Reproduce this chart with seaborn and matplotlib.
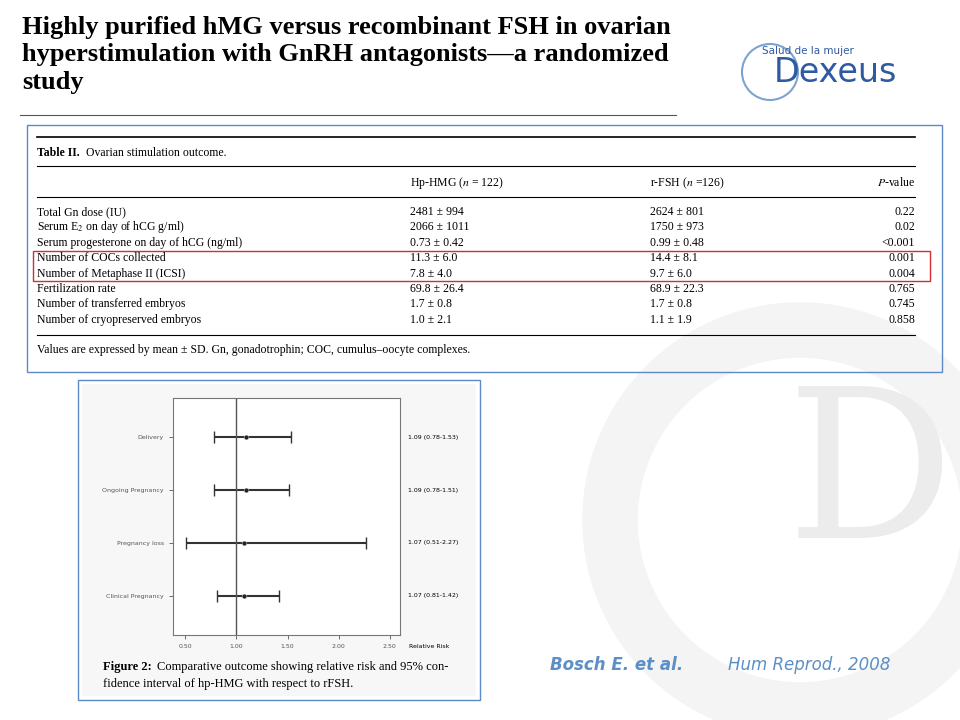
import matplotlib
matplotlib.use("Agg")
import matplotlib.pyplot as plt
from matplotlib.patches import Rectangle, Circle
import seaborn as sns
import pandas as pd

plt.rcParams["mathtext.fontset"] = "stix"

# forest plot data
outcomes = ["Delivery", "Ongoing Pregnancy", "Pregnancy loss", "Clinical Pregnancy"]
rr = [1.09, 1.09, 1.07, 1.07]
lo = [0.78, 0.78, 0.51, 0.81]
hi = [1.53, 1.51, 2.27, 1.42]
rr_labels = ["1.09 (0.78-1.53)", "1.09 (0.78-1.51)", "1.07 (0.51-2.27)", "1.07 (0.81-1.42)"]
xticks = [0.5, 1.0, 1.5, 2.0, 2.5]

# table data
row_labels = ["Total Gn dose (IU)", "Serum E$_2$ on day of hCG g/ml)",
              "Serum progesterone on day of hCG (ng/ml)", "Number of COCs collected",
              "Number of Metaphase II (ICSI)", "Fertilization rate",
              "Number of transferred embryos", "Number of cryopreserved embryos"]
hmg = ["2481 ± 994", "2066 ± 1011", "0.73 ± 0.42", "11.3 ± 6.0", "7.8 ± 4.0",
       "69.8 ± 26.4", "1.7 ± 0.8", "1.0 ± 2.1"]
fsh = ["2624 ± 801", "1750 ± 973", "0.99 ± 0.48", "14.4 ± 8.1", "9.7 ± 6.0",
       "68.9 ± 22.3", "1.7 ± 0.8", "1.1 ± 1.9"]
pval = ["0.22", "0.02", "<0.001", "0.001", "0.004", "0.765", "0.745", "0.858"]

fig = plt.figure(figsize=(9.6, 7.2), dpi=100)
bg = fig.add_axes([0, 0, 1, 1])
bg.set_xlim(0, 960); bg.set_ylim(720, 0); bg.axis("off")

# watermark D
bg.add_patch(Circle((800, 520), 190, fill=False, lw=40, color="#f4f4f4", zorder=0))
bg.text(870, 480, "D", fontsize=150, color="#ececec", family="DejaVu Serif",
        ha="center", va="center", zorder=0)

serif = "Liberation Serif"
bg.text(22, 16, "Highly purified hMG versus recombinant FSH in ovarian\n"
        "hyperstimulation with GnRH antagonists—a randomized\nstudy",
        fontsize=19, fontweight="bold", family=serif, va="top", linespacing=1.25)
bg.plot([20, 676], [115, 115], color="#555555", lw=0.8)

# logo
bg.text(808, 54, "Salud de la mujer", fontsize=7.5, color="#2d5aa0", ha="center")
bg.text(835, 72, "Dexeus", fontsize=24, color="#2d5aa0", ha="center", va="center")
bg.add_patch(Circle((770, 72), 28, fill=False, lw=1.5, color="#7fa3cf"))

# table
bg.add_patch(Rectangle((27, 125), 915, 247, fill=False, ec="#5b8ac6", lw=1))
bg.plot([37, 915], [137, 137], color="k", lw=1.2)
bg.text(37, 153, "Table II.", fontsize=8.5, fontweight="bold", family=serif, va="center")
bg.text(86, 153, "Ovarian stimulation outcome.", fontsize=8.5, family=serif, va="center")
bg.plot([37, 915], [166, 166], color="k", lw=0.8)
bg.text(410, 183, "Hp-HMG ($n$ = 122)", fontsize=8.5, family=serif, va="center")
bg.text(650, 183, "r-FSH ($n$ =126)", fontsize=8.5, family=serif, va="center")
bg.text(915, 183, "$P$-value", fontsize=8.5, family=serif, va="center", ha="right")
bg.plot([37, 915], [197, 197], color="k", lw=0.8)
for i in range(len(row_labels)):
    y = 212 + i * 15.4
    bg.text(37, y, row_labels[i], fontsize=8.5, family=serif, va="center")
    bg.text(410, y, hmg[i], fontsize=8.5, family=serif, va="center")
    bg.text(650, y, fsh[i], fontsize=8.5, family=serif, va="center")
    bg.text(915, y, pval[i], fontsize=8.5, family=serif, va="center", ha="right")
bg.add_patch(Rectangle((33, 251), 897, 30, fill=False, ec="#d03030", lw=1))
bg.plot([37, 915], [335, 335], color="k", lw=0.8)
bg.text(37, 350, "Values are expressed by mean ± SD. Gn, gonadotrophin; COC, cumulus–oocyte complexes.",
        fontsize=8.5, family=serif, va="center")

# forest box
bg.add_patch(Rectangle((78, 380), 402, 320, fill=False, ec="#5b8ac6", lw=1))
bg.add_patch(Rectangle((82, 384), 394, 312, color="#f7f7f7", lw=0, zorder=0.5))
bg.text(103, 667, "Figure 2:", fontsize=9, fontweight="bold", family=serif, va="center")
bg.text(157, 667, "Comparative outcome showing relative risk and 95% con-",
        fontsize=9, family=serif, va="center")
bg.text(103, 684, "fidence interval of hp-HMG with respect to rFSH.",
        fontsize=9, family=serif, va="center")

# citation
bg.text(550, 665, "Bosch E. et al.", fontsize=12, fontweight="bold", style="italic",
        color="#5b8fc7", va="center")
bg.text(728, 665, "Hum Reprod., 2008", fontsize=12, style="italic",
        color="#5b8fc7", va="center")

# forest axes
ax = fig.add_axes([173/960, 1-635/720, 227/960, 237/720])
ax.set_facecolor("white")
df = pd.DataFrame({"outcome": outcomes, "rr": rr, "lo": lo, "hi": hi, "pos": range(4)})
ax.errorbar(df["rr"], df["pos"], xerr=[df["rr"] - df["lo"], df["hi"] - df["rr"]],
            fmt="none", ecolor="#333333", elinewidth=1.5, capsize=4)
sns.scatterplot(data=df, x="rr", y="pos", ax=ax, color="#222222", s=12, zorder=3)
ax.axvline(1.0, color="#555555", lw=1)
ax.set_xlim(0.38, 2.6); ax.set_ylim(3.74, -0.74)
ax.set_xticks(xticks); ax.set_xticklabels([f"{v:.2f}" for v in xticks], fontsize=4.5)
ax.set_yticks(range(4)); ax.set_yticklabels(outcomes, fontsize=4.5)
ax.set_xlabel(""); ax.set_ylabel("")
for s in ax.spines.values():
    s.set_color("#777777"); s.set_linewidth(0.8)
ax.tick_params(length=3, width=0.6, colors="#555555")
for i, lab in enumerate(rr_labels):
    ax.text(1.035, i, lab, transform=ax.get_yaxis_transform(), fontsize=4.5, va="center")
ax.text(1.04, -0.05, "Relative Risk", transform=ax.transAxes, fontsize=4.5, va="center")

fig.savefig("out.png", dpi=100)
